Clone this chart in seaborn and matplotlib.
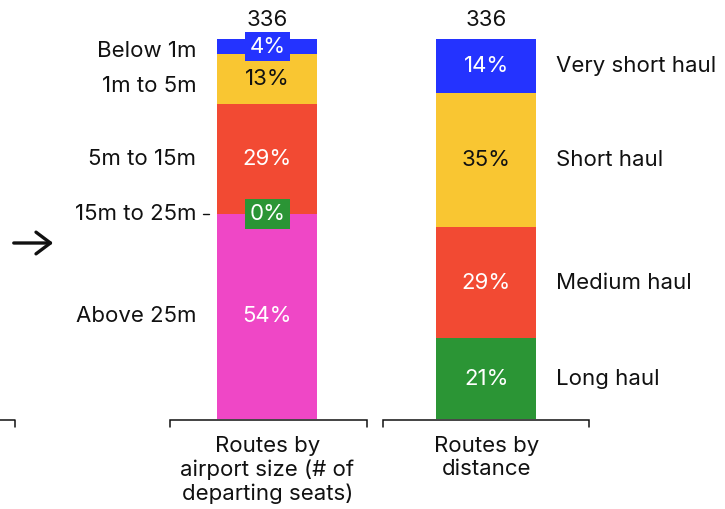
import matplotlib
matplotlib.use("Agg")
import matplotlib.pyplot as plt
import seaborn as sns
import pandas as pd

# ===============================
# data
# ===============================
bar_names = ["Routes by\nairport size (# of\ndeparting seats)", "Routes by\ndistance"]
bar_totals = [336, 336]

size_labels = ["Below 1m", "1m to 5m", "5m to 15m", "15m to 25m", "Above 25m"]
size_pct = [4, 13, 29, 0, 54]
size_colors = ["#2433FF", "#F9C632", "#F24A33", "#2B9535", "#EF47C6"]

dist_labels = ["Very short haul", "Short haul", "Medium haul", "Long haul"]
dist_pct = [14, 35, 29, 21]
dist_colors = ["#2433FF", "#F9C632", "#F24A33", "#2B9535"]

# ===============================
# style
# ===============================
sns.set_theme(style="white")
plt.rcParams["font.family"] = ["Inter", "DejaVu Sans"]
FS = 16
INK = "#111111"
PX_X = 1 / 219.0   # one pixel in x data units
PX_Y = 1 / 3.8     # one pixel in y data units
BAR_W = 100 * PX_X

fig = plt.figure(figsize=(7.25, 5.09), dpi=100)
ax = fig.add_axes([0, 0, 1, 1])


def stack_bar(pos, pct, colors):
    total = sum(pct)
    shares = [p / total * 100 for p in pct]
    tops = [sum(shares[i:]) for i in range(len(shares))]
    # tallest first, each later one covers the lower part
    for top, c in zip(tops, colors):
        df = pd.DataFrame({"bar": [bar_names[pos]], "value": [top]})
        sns.barplot(data=df, x="bar", y="value", order=bar_names, color=c,
                    saturation=1, width=BAR_W, linewidth=0, ax=ax)
    bottoms = tops[1:] + [0]
    return shares, tops, bottoms


def seg_labels(pos, pct, colors, shares, tops, bottoms):
    for p, c, s, t, b in zip(pct, colors, shares, tops, bottoms):
        yc = (t + b) / 2
        tc = INK if c == "#F9C632" else "white"
        box = None
        if s * 3.8 < 24:
            box = dict(boxstyle="square,pad=0.22", fc=c, ec="none")
        ax.text(pos, yc, f"{p}%", ha="center", va="center", fontsize=FS,
                color=tc, bbox=box)


# bar 1: airport size
s1, t1, b1 = stack_bar(0, size_pct, size_colors)
# bar 2: distance
s2, t2, b2 = stack_bar(1, dist_pct, dist_colors)

seg_labels(0, size_pct, size_colors, s1, t1, b1)
seg_labels(1, dist_pct, dist_colors, s2, t2, b2)

# left category labels (pushed apart when crowded)
gap = 35 * PX_Y
prev = 100 - 12 * PX_Y + gap
lx = -BAR_W / 2 - 21 * PX_X
for lab, s, t, b in zip(size_labels, s1, t1, b1):
    y = (t + b) / 2
    if y > prev - gap:
        y = prev - gap
    if s == 0:
        y = t
    prev = y
    ax.text(lx, y, lab, ha="right", va="center", fontsize=FS, color=INK)
    if s == 0:
        ax.plot([lx + 7 * PX_X, lx + 13 * PX_X], [y, y], color=INK, lw=1)

# right category labels
rx = 1 + BAR_W / 2 + 19 * PX_X
for lab, t, b in zip(dist_labels, t2, b2):
    ax.text(rx, (t + b) / 2, lab, ha="left", va="center", fontsize=FS, color=INK)

# totals above bars
for i, n in enumerate(bar_totals):
    ax.text(i, 100 + 5, str(n), ha="center", va="center", fontsize=FS, color=INK)

# brackets and group names
by = -1 * PX_Y
tick = 7 * PX_Y
brackets = [(0, -97.5 * PX_X, 99.5 * PX_X), (1, -103.5 * PX_X, 102.5 * PX_X)]
for i, l, r in brackets:
    x0, x1 = i + l, i + r
    ax.plot([x0, x0, x1, x1], [by - tick, by, by, by - tick], color=INK, lw=1.1,
            solid_joinstyle="miter")
    ax.text(i, by - 16 * PX_Y, bar_names[i], ha="center", va="top", fontsize=FS,
            color=INK, linespacing=1.2)

# cut-off bracket on the far left
xl = (15 - 267.5) * PX_X
ax.plot([xl - 30 * PX_X, xl, xl], [by, by, by - tick], color=INK, lw=1.1)

# arrow
ya = (419 - 243) * PX_Y
ax.annotate("", xy=((56 - 267.5) * PX_X, ya), xytext=((11 - 267.5) * PX_X, ya),
            arrowprops=dict(arrowstyle="->,head_width=0.3,head_length=0.4",
                            lw=2.4, color=INK, mutation_scale=26))

ax.set_xlim(-267.5 * PX_X, (725 - 267.5) * PX_X)
ax.set_ylim(-90 * PX_Y, 100 + 39 * PX_Y)
ax.set_axis_off()

plt.savefig("out.png", dpi=100)
plt.close()
